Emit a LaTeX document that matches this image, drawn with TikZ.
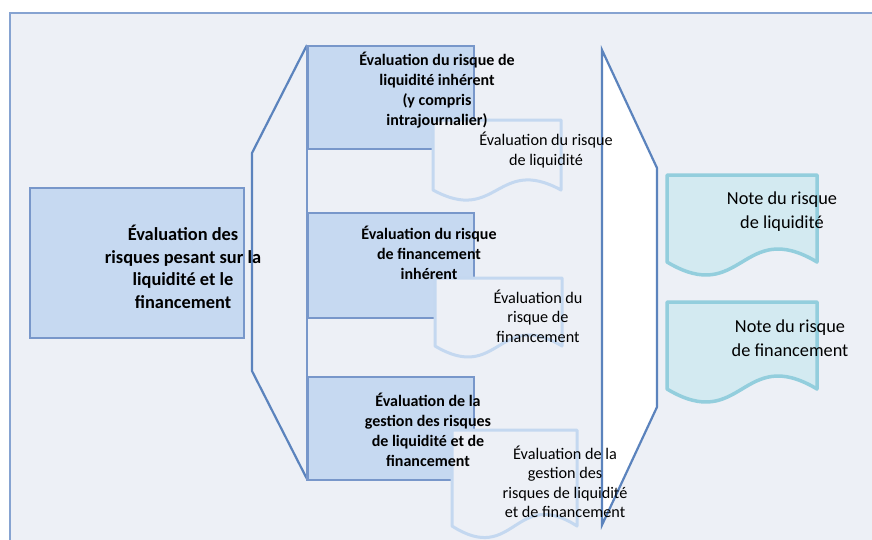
\documentclass[tikz,border=0pt]{standalone}
\usepackage{fontspec}
\setmainfont{Carlito}
\definecolor{bgc}{HTML}{EDF0F6}
\definecolor{outerc}{HTML}{86A3D1}
\definecolor{boxfill}{HTML}{C6D9F1}
\definecolor{boxdraw}{HTML}{7897CA}
\definecolor{brk}{HTML}{5B83BD}
\definecolor{docline}{HTML}{C4D8F0}
\definecolor{notefill}{HTML}{D3EAF1}
\definecolor{notedraw}{HTML}{93CEDD}
\tikzset{
  outerframe/.style={draw=outerc, fill=bgc, line width=2pt},
  bluebox/.style={draw=boxdraw, fill=boxfill, line width=2pt, anchor=north west, inner sep=0pt},
  bracketline/.style={draw=brk, line width=2.2pt, line join=miter},
  docshape/.style={draw=docline, fill=bgc, line width=3pt, line join=round},
  noteshape/.style={draw=notedraw, fill=notefill, line width=3.5pt, line join=round},
  boldtxt/.style={align=center, inner sep=0pt, font=\fontsize{16}{20}\selectfont\bfseries},
  bigtxt/.style={align=center, inner sep=0pt, font=\fontsize{18.4}{22.6}\selectfont\bfseries},
  doctxt/.style={align=center, inner sep=0pt, font=\fontsize{16.2}{19.5}\selectfont},
  notetxt/.style={align=center, inner sep=0pt, font=\fontsize{18.3}{24}\selectfont}
}
% #1 style, #2 x1, #3 top, #4 x2, #5 wave base, #6 wave control offset
\newcommand\wavydoc[6]{%
  \path[#1] (#2,#5) -- (#2,#3) -- (#4,#3) -- (#4,#5)
    .. controls ({(#2+#4)/2},{#5-#6}) and ({(#2+#4)/2},{#5+#6}) .. (#2,#5) -- cycle;}
\begin{document}
\begin{tikzpicture}[x=1pt,y=-1pt]
\useasboundingbox (0,0) rectangle (872,539);
\clip (0,0) rectangle (872,539);
\path[outerframe] (10,13) rectangle (900,570);
% left box
\node[bluebox, minimum width=214pt, minimum height=150pt] (lbox) at (29,187) {};
% left bracket
\draw[bracketline] (307,45) -- (252,153) -- (252,371) -- (307,479);
% middle boxes
\node[bluebox, minimum width=166pt, minimum height=103pt] (b1) at (307,45) {};
\node[bluebox, minimum width=166pt, minimum height=105pt] (b2) at (307,212) {};
\node[bluebox, minimum width=166pt, minimum height=103pt] (b3) at (307,376) {};
\draw[draw=boxdraw, line width=2pt] (b1.north west) -- (b3.south west);
% document shapes
\wavydoc{docshape}{433}{120}{561}{190}{35}
\wavydoc{docshape}{435}{278}{562}{346}{38}
\wavydoc{docshape}{452}{430}{577}{526}{40}
% right bracket
\draw[bracketline, fill=white] (602,50) -- (657,168) -- (657,407) -- (602,525) -- cycle;
% notes
\wavydoc{noteshape}{667}{175}{817}{262}{45}
\wavydoc{noteshape}{667}{302}{817}{389}{45}
% texts
\node[bigtxt] (tl) at (183,267) {Évaluation des\\risques pesant sur la\\liquidité et le\\financement};
\node[boldtxt] (t1) at (437,90) {Évaluation du risque de\\liquidité inhérent\\(y compris\\intrajournalier)};
\node[boldtxt] (t2) at (429,253) {Évaluation du risque\\de financement\\inhérent};
\node[boldtxt] (t3) at (428,430) {Évaluation de la\\gestion des risques\\de liquidité et de\\financement};
\node[doctxt] (d1) at (546,150) {Évaluation du risque\\de liquidité};
\node[doctxt] (d2) at (538,316) {Évaluation du\\risque de\\financement};
\node[doctxt] (d3) at (565,482) {Évaluation de la\\gestion des\\risques de liquidité\\et de financement};
\node[notetxt] (n1) at (782,212) {Note du risque\\de liquidité};
\node[notetxt] (n2) at (790,338) {Note du risque\\de financement};
\end{tikzpicture}
\end{document}
